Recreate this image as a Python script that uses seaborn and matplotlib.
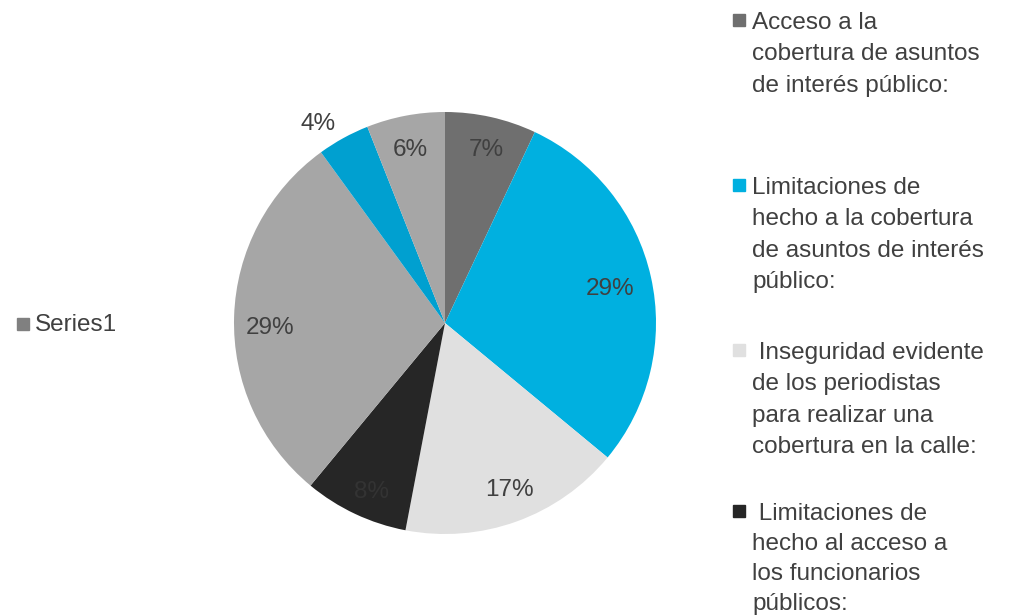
import numpy as np
import pandas as pd
import seaborn as sns
import matplotlib.pyplot as plt
from matplotlib.patches import Rectangle

# valori, in senso orario da ore 12
etichette = ["Acceso", "Limitaciones cobertura", "Inseguridad", "Limitaciones acceso",
             "Otro 1", "Otro 2", "Otro 3"]
valori = [7, 29, 17, 8, 29, 4, 6]
colori = ["#6f6f6f", "#00b0e0", "#e0e0e0", "#262626", "#a6a6a6", "#00a0d0", "#a6a6a6"]
legenda_testi = [
    "Acceso a la\ncobertura de asuntos\nde interés público:",
    "Limitaciones de\nhecho a la cobertura\nde asuntos de interés\npúblico:",
    " Inseguridad evidente\nde los periodistas\npara realizar una\ncobertura en la calle:",
    " Limitaciones de\nhecho al acceso a\nlos funcionarios\npúblicos:",
]
serie_nome = "Series1"

dati = pd.DataFrame({"voce": etichette, "valore": valori, "colore": colori})

sns.set_theme(style="white")
plt.rcParams["font.family"] = ["Liberation Sans", "DejaVu Sans"]
testo = "#404040"

W, H = 1020, 616
fig = plt.figure(figsize=(W / 100, H / 100), dpi=100)
cx, cy, r = 445, 323, 211
ax = fig.add_axes([(cx - r) / W, (H - cy - r) / H, 2 * r / W, 2 * r / H])

wedges, testi = ax.pie(dati["valore"], colors=dati["colore"], startangle=90,
                       counterclock=False, labels=[f"{v}%" for v in dati["valore"]],
                       labeldistance=0.83, radius=1,
                       wedgeprops=dict(linewidth=0),
                       textprops=dict(fontsize=17.5, color=testo, ha="center", va="center"))
ax.set_xlim(-1, 1)
ax.set_ylim(-1, 1)
ax.set_aspect("equal")
ax.axis("off")

# posizioni delle etichette come nel grafico originale (pixel -> coordinate torta)
pos_pixel = [(486, 150), (610, 289), (509, 490), (372, 492), (270, 328), (318, 124), (410, 150)]
for t, (px, py) in zip(testi, pos_pixel):
    t.set_position(((px - cx) / r, (cy - py) / r))
# etichetta 8% quasi invisibile sul nero
testi[3].set_color("#333333")

# legenda a destra (solo le prime 4 voci visibili)
top_y = [12, 177, 342, 503]
interlinea = [1.55, 1.55, 1.55, 1.47]
for i, lab in enumerate(legenda_testi):
    y0 = top_y[i]
    fig.patches.append(Rectangle((733 / W, 1 - (y0 + 14) / H), 12 / W, 12 / H,
                                 transform=fig.transFigure, color=colori[i]))
    fig.text(752 / W, 1 - y0 / H, lab, fontsize=17.5, color=testo,
             va="top", ha="left", linespacing=interlinea[i])

# legenda serie a sinistra
fig.patches.append(Rectangle((17 / W, 1 - 330 / H), 12 / W, 12 / H,
                             transform=fig.transFigure, color="#808080"))
fig.text(35 / W, 1 - 325 / H, serie_nome, fontsize=17.5, color=testo, va="center", ha="left")

fig.savefig("out.png", dpi=100)
